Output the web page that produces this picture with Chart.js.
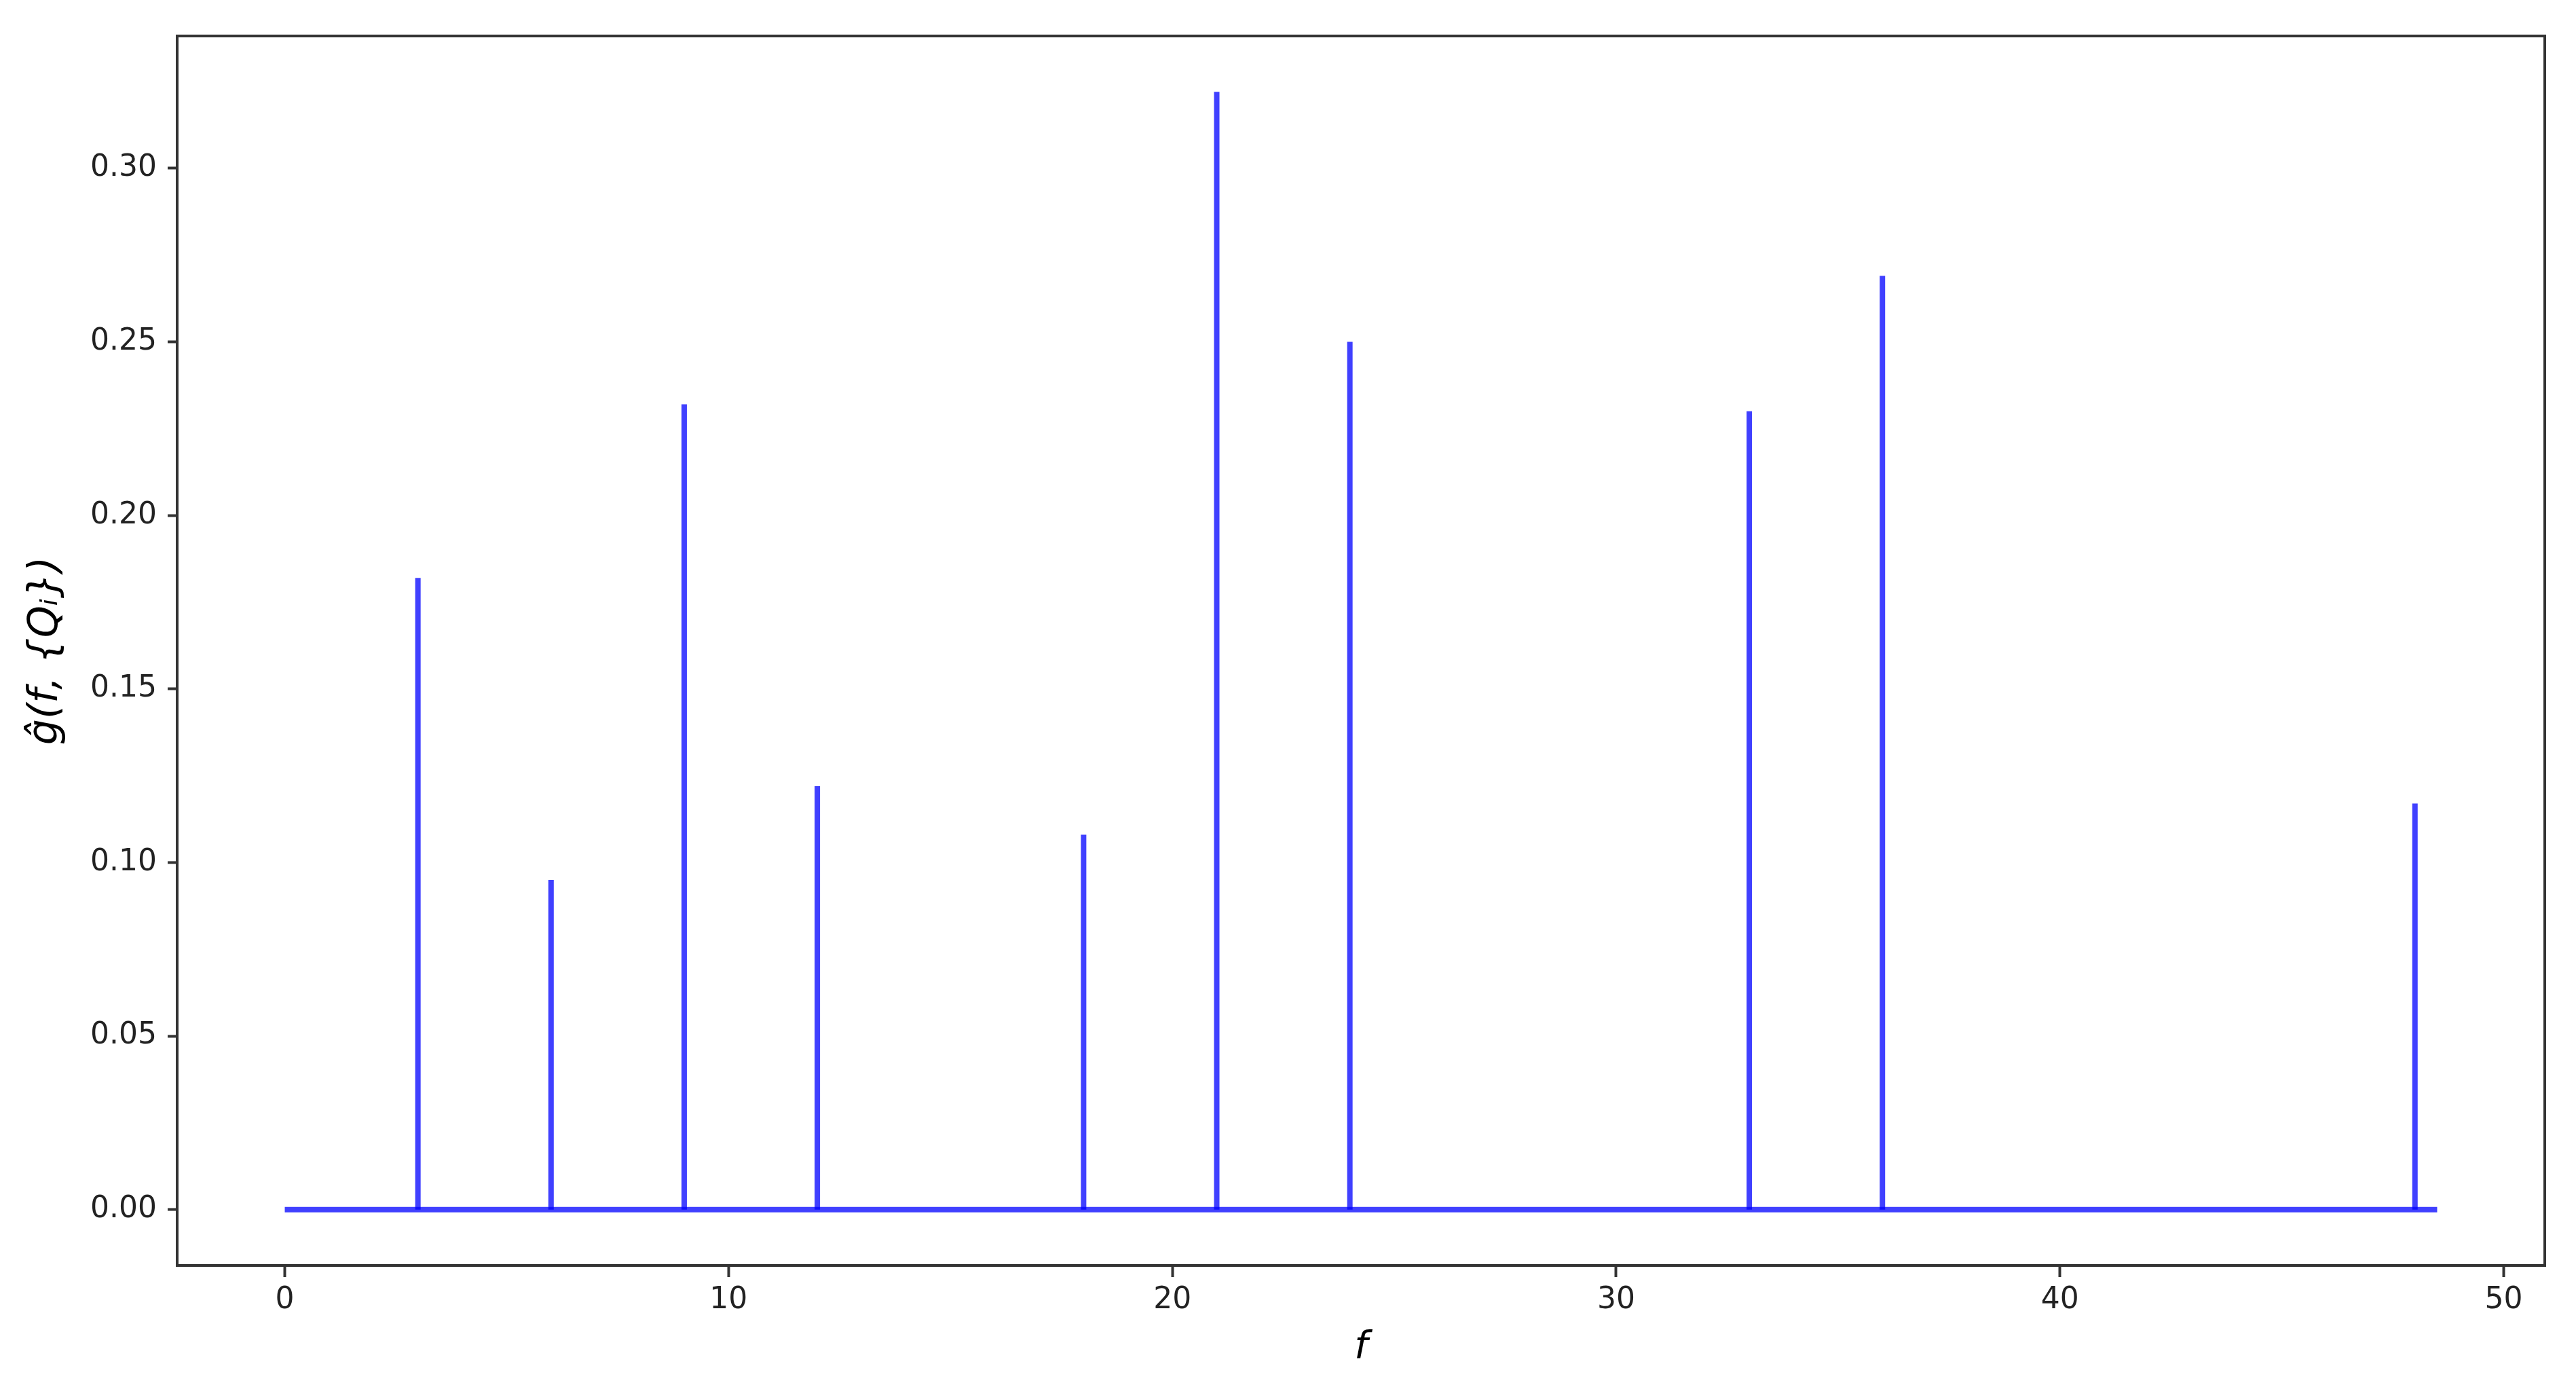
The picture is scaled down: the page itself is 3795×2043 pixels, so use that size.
<!DOCTYPE html>
<html>
<head>
<meta charset="utf-8">
<script src="https://cdn.jsdelivr.net/npm/chart.js@4.4.1/dist/chart.umd.min.js"></script>
<style>
  html, body { margin: 0; padding: 0; background: #fff; }
  #wrap { width: 3795px; height: 2043px; position: relative; }
</style>
</head>
<body>
<div id="wrap"><canvas id="spectrumChart"></canvas></div>
<script>
// spike positions (f) and heights
const freqs = [3, 6, 9, 12, 18, 21, 24, 33, 36, 48];
const amps = [0.182, 0.095, 0.232, 0.122, 0.108, 0.322, 0.250, 0.230, 0.269, 0.117];
// flat zero line runs across the whole f range
const baselineRange = [0, 48.5];
// axis limits (matplotlib style 5% margins)
const xRange = [-2.425, 50.925];
const yRange = [-0.0161, 0.3381];
const xStep = 10;
const yStep = 0.05;

const lineColor = 'rgba(0, 0, 255, 0.75)';
const axisColor = '#333';

Chart.defaults.font.family = "'DejaVu Sans', sans-serif";
Chart.defaults.color = '#222';

// one dataset per spike, plus the baseline
const datasets = [{
    data: baselineRange.map(f => ({ x: f, y: 0 })),
    borderColor: lineColor,
    borderWidth: 8,
    pointRadius: 0
}];
freqs.forEach((f, i) => {
    datasets.push({
        data: [{ x: f, y: 0 }, { x: f, y: amps[i] }],
        borderColor: lineColor,
        borderWidth: 8,
        pointRadius: 0
    });
});

// box around the plot area
const frame = {
    id: 'frame',
    afterDatasetsDraw(chart) {
        const { ctx, chartArea: a } = chart;
        ctx.save();
        ctx.strokeStyle = axisColor;
        ctx.lineWidth = 4;
        ctx.strokeRect(a.left, a.top, a.right - a.left, a.bottom - a.top);
        ctx.restore();
    }
};

const ctx = document.getElementById('spectrumChart').getContext('2d');
const chart = new Chart(ctx, {
    type: 'line',
    data: { datasets: datasets },
    options: {
        responsive: true,
        maintainAspectRatio: false,
        animation: false,
        devicePixelRatio: 1,
        layout: { padding: { top: 53, right: 46, left: 0, bottom: 0 } },
        plugins: { legend: { display: false }, tooltip: { enabled: false } },
        scales: {
            x: {
                type: 'linear',
                min: xRange[0],
                max: xRange[1],
                afterFit: s => { s.height = 179; },
                border: { display: false },
                grid: { drawOnChartArea: false, tickLength: 17, tickWidth: 4, tickColor: axisColor },
                ticks: { stepSize: xStep, includeBounds: false, padding: 8, font: { size: 44 },
                    callback: v => String(v) },
                title: { display: true, text: 'f', padding: { top: 0, bottom: 24 },
                    font: { size: 56, style: 'italic' }, color: '#000' }
            },
            y: {
                type: 'linear',
                min: yRange[0],
                max: yRange[1],
                afterFit: s => { s.width = 261; },
                border: { display: false },
                grid: { drawOnChartArea: false, tickLength: 14, tickWidth: 4, tickColor: axisColor },
                ticks: { stepSize: yStep, includeBounds: false, padding: 16, font: { size: 44 },
                    callback: v => v.toFixed(2) },
                title: { display: true, text: 'ĝ(f, {Qᵢ})', padding: { top: 32, bottom: 0 },
                    font: { size: 60, style: 'italic' }, color: '#000' }
            }
        }
    },
    plugins: [frame]
});
</script>
</body>
</html>
